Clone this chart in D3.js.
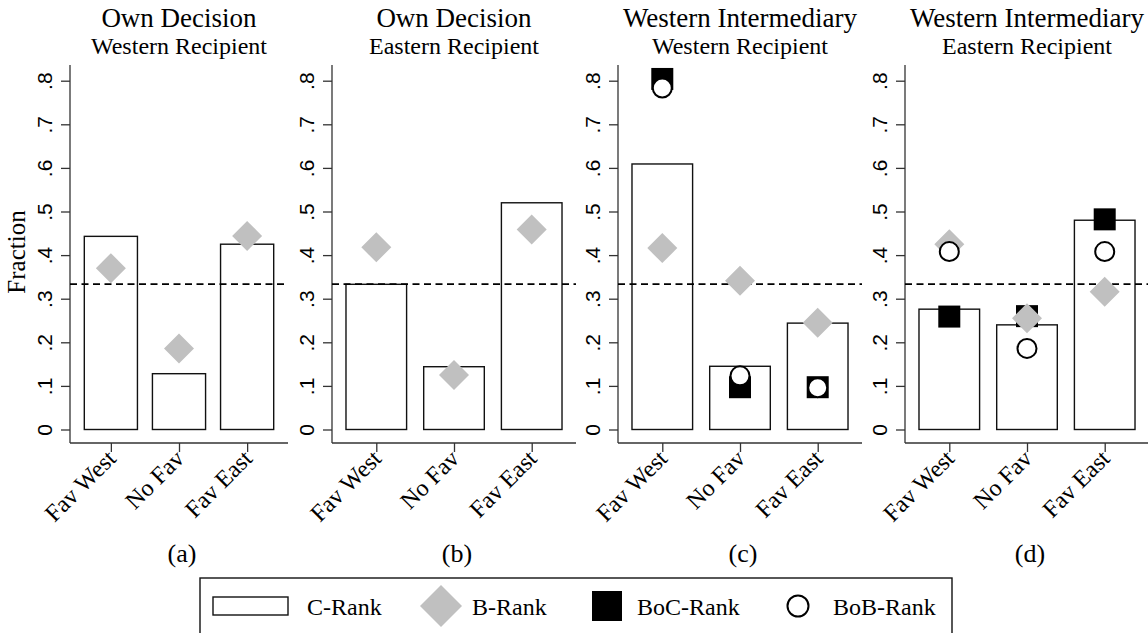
<!DOCTYPE html>
<html>
<head>
<meta charset="utf-8">
<script src="https://cdnjs.cloudflare.com/ajax/libs/d3/7.8.5/d3.min.js"></script>
<style>
  body { margin: 0; background: #fff; }
  svg { display: block; }
  .serif { font-family: 'Liberation Serif', 'Times New Roman', serif; fill: #000; }
  .sans { font-family: 'Liberation Sans', Arial, sans-serif; fill: #000; }
</style>
</head>
<body>
<div id="chart"></div>
<script>
// Data
const categories = ['Fav West', 'No Fav', 'Fav East'];
const titleTop = ['Own Decision', 'Own Decision', 'Western Intermediary', 'Western Intermediary'];
const titleBottom = ['Western Recipient', 'Eastern Recipient', 'Western Recipient', 'Eastern Recipient'];
const panelLetters = ['(a)', '(b)', '(c)', '(d)'];

const cRank = [
  [0.443, 0.128, 0.425],
  [0.333, 0.144, 0.520],
  [0.609, 0.145, 0.244],
  [0.276, 0.240, 0.480]
];
const bRank = [
  [0.370, 0.186, 0.444],
  [0.418, 0.125, 0.459],
  [0.416, 0.341, 0.245],
  [0.425, 0.255, 0.316]
];
const bocRank = [
  null,
  null,
  [0.804, 0.097, 0.097],
  [0.259, 0.260, 0.482]
];
const bobRank = [
  null,
  null,
  [0.783, 0.123, 0.096],
  [0.408, 0.186, 0.408]
];

const yTicks = [0, 0.1, 0.2, 0.3, 0.4, 0.5, 0.6, 0.7, 0.8];
const yTickLabels = ['0', '.1', '.2', '.3', '.4', '.5', '.6', '.7', '.8'];
const chanceLine = 1 / 3;
const legendLabels = ['C-Rank', 'B-Rank', 'BoC-Rank', 'BoB-Rank'];

const W = 1148, H = 633;
const grey = '#c0c0c0';

// plot region of each panel (left, right) and its x extent
const panels = [
  { x0: 70, x1: 288, dom: [0.4, 3.6] },
  { x0: 332, x1: 576, dom: [0.43, 3.57] },
  { x0: 618, x1: 862, dom: [0.43, 3.57] },
  { x0: 905, x1: 1149, dom: [0.43, 3.57] }
];
const axisTop = 65, axisBottom = 443;

const svg = d3.select('#chart').append('svg')
  .attr('width', W)
  .attr('height', H);

const yScale = d3.scaleLinear()
  .domain([0, 0.8])
  .range([429.5, 80.7]);

panels.forEach((p, k) => {
  let xScale = d3.scaleLinear().domain(p.dom).range([p.x0, p.x1]);
  let step = xScale(2) - xScale(1);
  let barW = step * 0.78;
  let g = svg.append('g').attr('class', 'panel');
  let cx = (p.x0 + p.x1) / 2;

  //Titles
  g.append('text').attr('class', 'serif')
    .attr('x', cx).attr('y', 27)
    .attr('text-anchor', 'middle')
    .style('font-size', '27px')
    .text(titleTop[k]);
  g.append('text').attr('class', 'serif')
    .attr('x', cx).attr('y', 54)
    .attr('text-anchor', 'middle')
    .style('font-size', '24px')
    .text(titleBottom[k]);

  //Y axis
  let yAxis = g.append('g')
    .attr('transform', `translate(${p.x0},0)`)
    .call(d3.axisLeft(yScale).tickValues(yTicks).tickFormat((d, i) => yTickLabels[i]).tickSize(9));
  yAxis.select('.domain').remove();
  yAxis.selectAll('.tick line').attr('stroke', '#333').attr('stroke-width', 1.3);
  yAxis.selectAll('.tick text')
    .attr('class', 'sans')
    .attr('x', 0)
    .attr('y', -18)
    .attr('dy', 0)
    .attr('transform', 'rotate(-90)')
    .attr('text-anchor', 'middle')
    .style('font-size', '21px');
  g.append('line')
    .attr('x1', p.x0).attr('x2', p.x0)
    .attr('y1', axisTop).attr('y2', axisBottom)
    .attr('stroke', '#333').attr('stroke-width', 1.3);

  //X axis
  let xAxis = g.append('g')
    .attr('transform', `translate(0,${axisBottom})`)
    .call(d3.axisBottom(xScale).tickValues([1, 2, 3]).tickFormat((d, i) => categories[i]).tickSize(9));
  xAxis.select('.domain').remove();
  xAxis.selectAll('.tick line').attr('stroke', '#333').attr('stroke-width', 1.3);
  xAxis.selectAll('.tick text')
    .attr('class', 'serif')
    .attr('x', 0).attr('y', 0).attr('dy', 0)
    .attr('transform', 'translate(6,17) rotate(-45)')
    .attr('text-anchor', 'end')
    .style('font-size', '24px');
  g.append('line')
    .attr('x1', p.x0).attr('x2', p.x1)
    .attr('y1', axisBottom).attr('y2', axisBottom)
    .attr('stroke', '#333').attr('stroke-width', 1.3);

  //Bars
  g.selectAll('.bar')
    .data(cRank[k])
    .enter()
    .append('rect')
    .attr('class', 'bar')
    .attr('x', (d, i) => xScale(i + 1) - barW / 2)
    .attr('y', d => yScale(d))
    .attr('width', barW)
    .attr('height', d => yScale(0) - yScale(d))
    .attr('fill', '#fff')
    .attr('stroke', '#111')
    .attr('stroke-width', 1.4);

  //Chance line
  g.append('line')
    .attr('x1', p.x0).attr('x2', p.x1)
    .attr('y1', yScale(chanceLine)).attr('y2', yScale(chanceLine))
    .attr('stroke', '#000')
    .attr('stroke-width', 1.6)
    .attr('stroke-dasharray', '7,4.5');

  //BoC squares
  if (bocRank[k]) {
    g.selectAll('.boc')
      .data(bocRank[k])
      .enter()
      .append('rect')
      .attr('class', 'boc')
      .attr('x', (d, i) => xScale(i + 1) - 11)
      .attr('y', d => yScale(d) - 11)
      .attr('width', 22)
      .attr('height', 22)
      .attr('fill', '#000');
  }

  //B-Rank diamonds
  g.selectAll('.brank')
    .data(bRank[k])
    .enter()
    .append('path')
    .attr('class', 'brank')
    .attr('d', (d, i) => {
      let x = xScale(i + 1), y = yScale(d);
      return `M${x},${y - 15}L${x + 15},${y}L${x},${y + 15}L${x - 15},${y}Z`;
    })
    .attr('fill', grey);

  //BoB circles
  if (bobRank[k]) {
    g.selectAll('.bob')
      .data(bobRank[k])
      .enter()
      .append('circle')
      .attr('class', 'bob')
      .attr('cx', (d, i) => xScale(i + 1))
      .attr('cy', d => yScale(d))
      .attr('r', 9.5)
      .attr('fill', '#fff')
      .attr('stroke', '#000')
      .attr('stroke-width', 2);
  }

  //Panel letter
  g.append('text').attr('class', 'serif')
    .attr('x', cx + 3).attr('y', 562)
    .attr('text-anchor', 'middle')
    .style('font-size', '26px')
    .text(panelLetters[k]);
});

//Y title
svg.append('text').attr('class', 'serif')
  .attr('transform', 'translate(25,252) rotate(-90)')
  .attr('text-anchor', 'middle')
  .style('font-size', '25px')
  .text('Fraction');

//Legend
let legend = svg.append('g').attr('class', 'legend');
legend.append('rect')
  .attr('x', 200).attr('y', 578)
  .attr('width', 752).attr('height', 70)
  .attr('fill', 'none')
  .attr('stroke', '#111')
  .attr('stroke-width', 1.4);
let ly = 606;
legend.append('rect')
  .attr('x', 213).attr('y', ly - 9)
  .attr('width', 75).attr('height', 18)
  .attr('fill', '#fff').attr('stroke', '#111').attr('stroke-width', 1.4);
legend.append('path')
  .attr('d', `M441,${ly - 21}L462,${ly}L441,${ly + 21}L420,${ly}Z`)
  .attr('fill', grey);
legend.append('rect')
  .attr('x', 592).attr('y', ly - 15)
  .attr('width', 30).attr('height', 30)
  .attr('fill', '#000');
legend.append('circle')
  .attr('cx', 798).attr('cy', ly)
  .attr('r', 10.5)
  .attr('fill', '#fff').attr('stroke', '#000').attr('stroke-width', 2);
let lx = [307, 472, 637, 833];
legend.selectAll('.legend-text')
  .data(legendLabels)
  .enter()
  .append('text')
  .attr('class', 'serif legend-text')
  .attr('x', (d, i) => lx[i])
  .attr('y', ly + 9)
  .style('font-size', '24px')
  .text(d => d);
</script>
</body>
</html>
